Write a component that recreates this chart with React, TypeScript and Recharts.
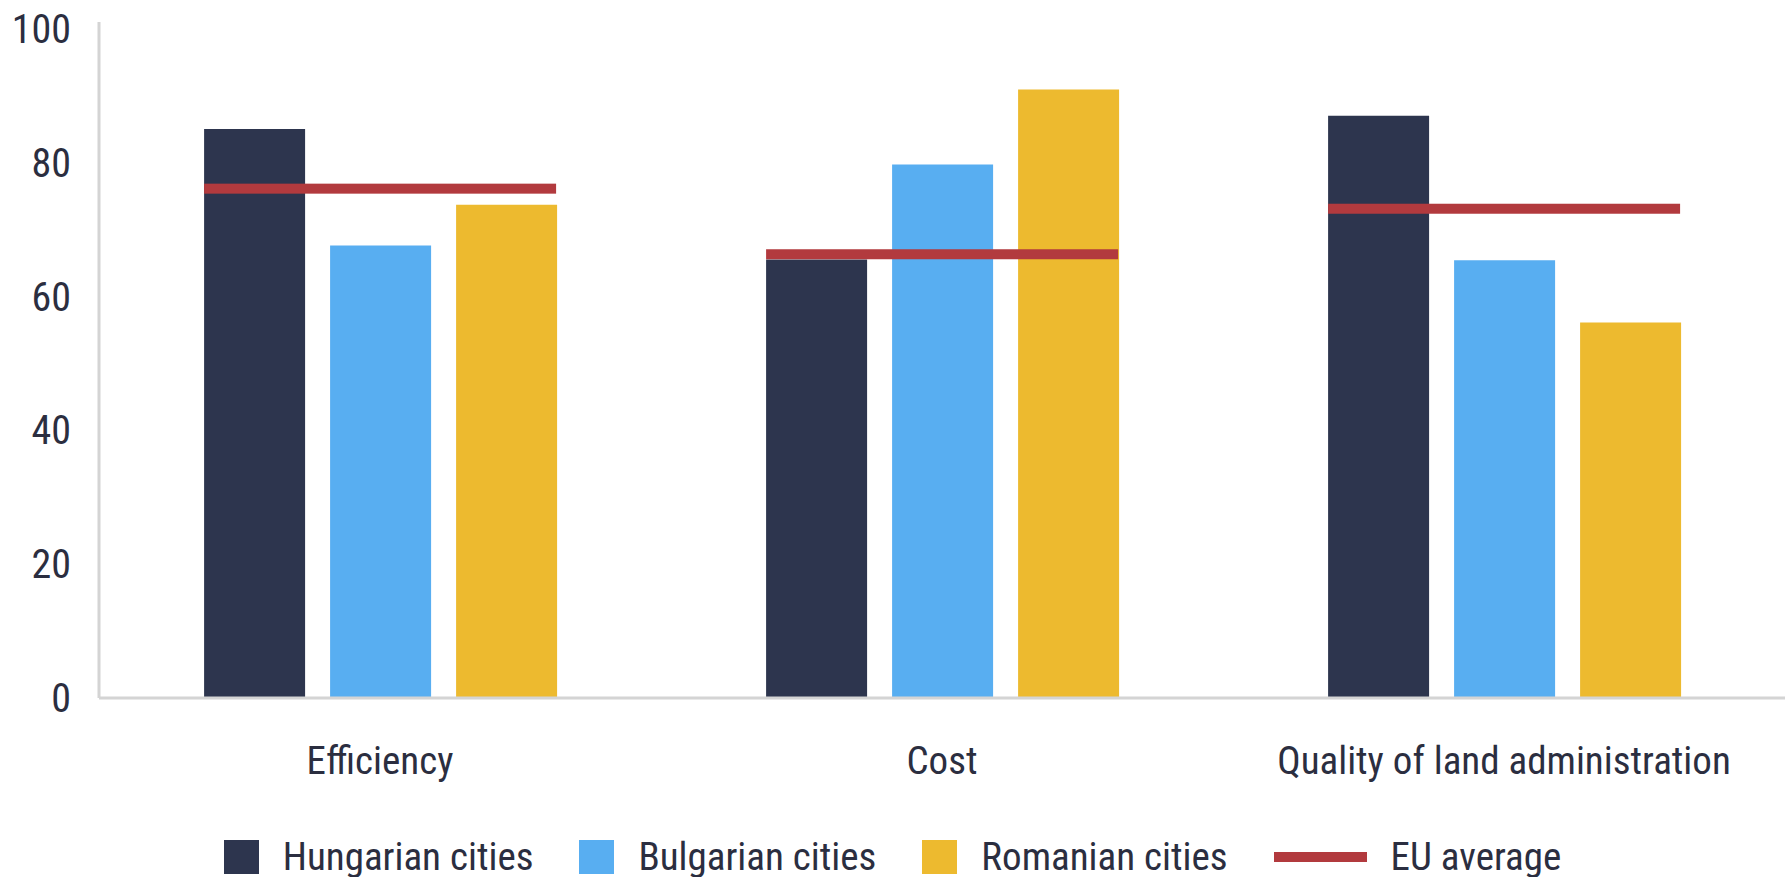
import React from 'react';
import { BarChart, Bar, XAxis, YAxis, Legend } from 'recharts';

const categories = ['Efficiency', 'Cost', 'Quality of land administration'];
const hungarianCities = [85, 65.5, 87];
const bulgarianCities = [67.6, 79.7, 65.4];
const romanianCities = [73.7, 90.9, 56.1];
const euAverage = [76.1, 66.3, 73.1];
const yTicks = [0, 20, 40, 60, 80, 100];

const FONT = '"Roboto Condensed", "Open Sans Condensed", "Noto Sans", "DejaVu Sans Condensed", sans-serif';
const TEXT = '#2B2E40';
const AXIS = '#d4d4d4';

const series = [
    { key: 'hungarian', name: 'Hungarian cities', color: '#2D354E' },
    { key: 'bulgarian', name: 'Bulgarian cities', color: '#58AEF1' },
    { key: 'romanian', name: 'Romanian cities', color: '#EDBA2F' },
];
const euColor = '#B23A3E';

const data = categories.map((name, i) => ({
    name,
    hungarian: hungarianCities[i],
    bulgarian: bulgarianCities[i],
    romanian: romanianCities[i],
    eu: euAverage[i],
}));

// EU average drawn as a thick horizontal bar across the whole group
const EuLine = (props: any) => {
    const { x, y, width } = props;
    return <rect x={x} y={y - 5} width={width} height={10} fill={euColor} />;
};

const LegendContent = () => (
    <div
        style={{
            display: 'flex',
            justifyContent: 'center',
            alignItems: 'center',
            height: 44,
            fontFamily: FONT,
            fontStretch: 'condensed',
            fontSize: 39,
            lineHeight: '44px',
            color: TEXT,
            gap: 46,
        }}
    >
        {series.map((s) => (
            <div key={s.key} style={{ display: 'flex', alignItems: 'center' }}>
                <span style={{ width: 35, height: 34, background: s.color, marginRight: 24 }} />
                <span>{s.name}</span>
            </div>
        ))}
        <div style={{ display: 'flex', alignItems: 'center' }}>
            <span style={{ width: 93, height: 10, background: euColor, marginRight: 24 }} />
            <span>EU average</span>
        </div>
    </div>
);

export default function App() {
    return (
        <div style={{ position: 'absolute', left: 0, top: 0, background: '#fff' }}>
            <BarChart
                width={1785}
                height={877}
                data={data}
                margin={{ top: 22, right: 0, bottom: 0, left: 0 }}
                barCategoryGap="18.7%"
                barGap={25}
            >
                <XAxis
                    dataKey="name"
                    interval={0}
                    height={135}
                    tickLine={false}
                    tickSize={0}
                    tickMargin={48}
                    axisLine={{ stroke: AXIS, strokeWidth: 3 }}
                    tick={{ fill: TEXT, fontSize: 39, fontFamily: FONT, fontStretch: 'condensed' }}
                />
                <XAxis xAxisId="eu" dataKey="name" hide />
                <YAxis
                    width={99}
                    domain={[0, 101]}
                    ticks={yTicks}
                    tickLine={false}
                    tickSize={0}
                    tickMargin={28}
                    axisLine={{ stroke: AXIS, strokeWidth: 3 }}
                    tick={{ fill: TEXT, fontSize: 40, fontFamily: FONT, fontStretch: 'condensed' }}
                />
                <Legend
                    verticalAlign="bottom"
                    content={<LegendContent />}
                    wrapperStyle={{ top: 835, left: 0, width: 1785, height: 44 }}
                />
                {series.map((s) => (
                    <Bar key={s.key} dataKey={s.key} name={s.name} fill={s.color} isAnimationActive={false} />
                ))}
                <Bar xAxisId="eu" dataKey="eu" name="EU average" fill={euColor} shape={<EuLine />} isAnimationActive={false} />
            </BarChart>
        </div>
    );
}
